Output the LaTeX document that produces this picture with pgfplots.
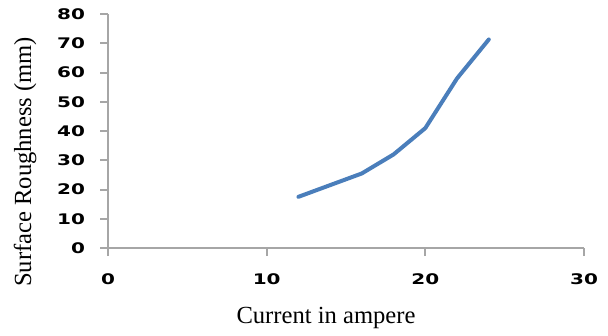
\documentclass[border=0pt]{standalone}
\usepackage{fontspec}
\setmainfont{Liberation Serif}
\newfontfamily\tickfont{DejaVu Sans}
\usepackage{pgfplots}
\pgfplotsset{compat=1.18}
\definecolor{lineblue}{HTML}{4A7EBB}
\definecolor{axgray}{HTML}{A6A6A6}
\begin{document}
\begin{tikzpicture}
\begin{axis}[
  at={(0,0)}, anchor=south west,
  scale only axis,
  width=238pt, height=117pt,
  xmin=0, xmax=30, ymin=0, ymax=80,
  xtick={0,10,20,30}, ytick={0,10,...,80},
  axis lines=left,
  axis line style={axgray, line width=1pt, -},
  tick style={axgray, line width=1pt},
  tick align=outside,
  major tick length=4pt,
  /pgf/number format/assume math mode=true,
  xticklabel={\scalebox{1.37}[1]{\tickfont\bfseries\pgfmathprintnumber{\tick}}},
  yticklabel={\scalebox{1.37}[1]{\tickfont\bfseries\pgfmathprintnumber{\tick}}},
  ticklabel style={font=\fontsize{7.3}{8}\selectfont, text=black},
  xticklabel style={yshift=-5.5pt},
  yticklabel style={xshift=-4pt},
  xlabel={Current in ampere},
  ylabel={Surface Roughness (mm)},
  label style={font=\fontsize{12.3}{14}\selectfont},
  xlabel style={at={(axis description cs:0.458,-0.3)}, anchor=center},
  ylabel style={at={(axis description cs:-0.174,0.368)}, anchor=center, rotate=0},
  clip=false,
]
\addplot[lineblue, line width=2pt, line join=round, line cap=round] coordinates {
  (12,17.5) (16,25.5) (18,32) (20,41) (22,58) (24,71.3)
};
\end{axis}
\path[use as bounding box] (-54pt,-42pt) rectangle (250pt,124pt);
\end{tikzpicture}
\end{document}
